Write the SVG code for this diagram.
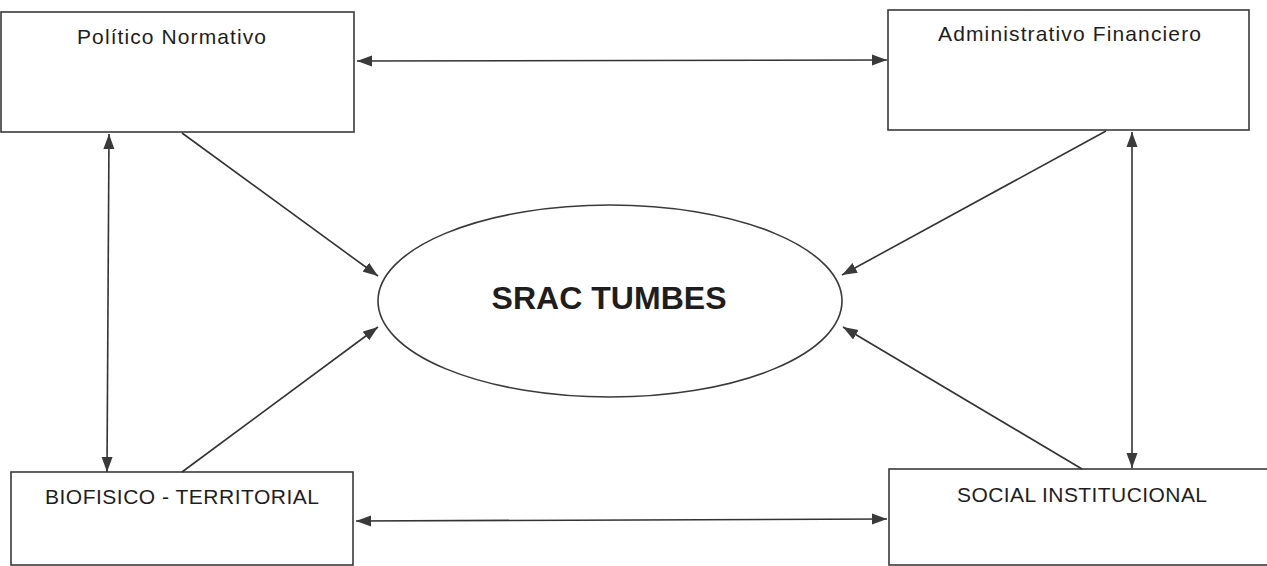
<svg xmlns="http://www.w3.org/2000/svg" width="1267" height="566" viewBox="0 0 1267 566">
<style>
.box{fill:#fff;stroke:#3a3a3a;stroke-width:1.6}
.lbl{font-family:"Liberation Sans",Arial,sans-serif;font-size:21px;fill:#1e1e1e}
.title{font-family:"Liberation Sans",Arial,sans-serif;font-size:32px;font-weight:bold;fill:#1e1e1e}
.con{stroke:#333;stroke-width:1.6;fill:none}
</style>
<defs>
<marker id="ah" markerUnits="userSpaceOnUse" markerWidth="16" markerHeight="12" refX="15" refY="5.5" orient="auto-start-reverse" viewBox="0 0 16 11">
<path d="M0,0 L15,5.5 L0,11 z" fill="#3a3a3a"/>
</marker>
</defs>
<rect width="1267" height="566" fill="#fff"/>
<g id="politico">
<rect class="box" x="1" y="12" width="353" height="120"/>
<text class="lbl" x="77" y="44" textLength="189" lengthAdjust="spacing">Político Normativo</text>
</g>
<g id="administrativo">
<rect class="box" x="888" y="10" width="361" height="120"/>
<text class="lbl" x="938" y="41" textLength="263" lengthAdjust="spacing">Administrativo Financiero</text>
</g>
<g id="biofisico">
<rect class="box" x="11" y="472" width="342" height="93"/>
<text class="lbl" x="45" y="504" textLength="274" lengthAdjust="spacing">BIOFISICO - TERRITORIAL</text>
</g>
<g id="social">
<rect class="box" x="889" y="469" width="385" height="96"/>
<text class="lbl" x="957" y="502" textLength="250" lengthAdjust="spacing">SOCIAL INSTITUCIONAL</text>
</g>
<g id="srac">
<ellipse class="box" cx="610" cy="301" rx="232" ry="96"/>
<text class="title" x="609" y="309" text-anchor="middle" textLength="235" lengthAdjust="spacing">SRAC TUMBES</text>
</g>
<g id="connectors">
<line class="con" x1="357" y1="61" x2="887" y2="60" marker-start="url(#ah)" marker-end="url(#ah)"/>
<line class="con" x1="356" y1="521" x2="887" y2="519" marker-start="url(#ah)" marker-end="url(#ah)"/>
<line class="con" x1="109" y1="134" x2="107" y2="472" marker-start="url(#ah)" marker-end="url(#ah)"/>
<line class="con" x1="1132" y1="132" x2="1132" y2="468" marker-start="url(#ah)" marker-end="url(#ah)"/>
<line class="con" x1="182" y1="133" x2="378" y2="276" marker-end="url(#ah)"/>
<line class="con" x1="182" y1="472" x2="378" y2="327" marker-end="url(#ah)"/>
<line class="con" x1="1106" y1="131" x2="842" y2="275" marker-end="url(#ah)"/>
<line class="con" x1="1082" y1="469" x2="843" y2="327" marker-end="url(#ah)"/>
</g>
</svg>
